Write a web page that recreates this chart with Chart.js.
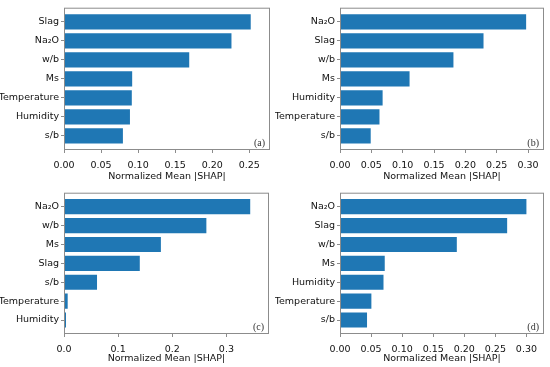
<!DOCTYPE html>
<html>
<head>
<meta charset="utf-8">
<script src="https://cdn.jsdelivr.net/npm/chart.js@4/dist/chart.umd.min.js"></script>
<style>
  body { margin: 0; background: #fff; }
  #wrap { position: relative; width: 550px; height: 367px; }
  canvas { position: absolute; }
</style>
</head>
<body>
<div id="wrap">
  <canvas id="cA" width="275" height="185" style="left:0;top:0"></canvas>
  <canvas id="cB" width="275" height="185" style="left:275px;top:0"></canvas>
  <canvas id="cC" width="275" height="182" style="left:0;top:185px"></canvas>
  <canvas id="cD" width="275" height="182" style="left:275px;top:185px"></canvas>
</div>
<script>
// features, top to bottom as drawn
const labelsA = ['Slag', 'Na₂O', 'w/b', 'Ms', 'Temperature', 'Humidity', 's/b'];
const valuesA = [0.252, 0.226, 0.169, 0.092, 0.0915, 0.089, 0.0795];
const ticksA = [0, 0.05, 0.10, 0.15, 0.20, 0.25];

const labelsB = ['Na₂O', 'Slag', 'w/b', 'Ms', 'Humidity', 'Temperature', 's/b'];
const valuesB = [0.297, 0.229, 0.181, 0.111, 0.068, 0.063, 0.049];
const ticksB = [0, 0.05, 0.10, 0.15, 0.20, 0.25, 0.30];

const labelsC = ['Na₂O', 'w/b', 'Ms', 'Slag', 's/b', 'Temperature', 'Humidity'];
const valuesC = [0.344, 0.263, 0.179, 0.140, 0.061, 0.0068, 0.0037];
const ticksC = [0, 0.1, 0.2, 0.3];

const labelsD = ['Na₂O', 'Slag', 'w/b', 'Ms', 'Humidity', 'Temperature', 's/b'];
const valuesD = [0.300, 0.269, 0.188, 0.072, 0.070, 0.0505, 0.0435];
const ticksD = [0, 0.05, 0.10, 0.15, 0.20, 0.25, 0.30];

const FONT = 'DejaVu Sans';
const INK = '#111';
const EDGE = '#8c8c8c';

// frame + panel tag
const framePlugin = {
    id: 'frame',
    afterDraw(chart, args, opts) {
        const a = chart.chartArea;
        const ctx = chart.ctx;
        ctx.save();
        ctx.strokeStyle = EDGE;
        ctx.lineWidth = 1;
        ctx.strokeRect(a.left + 0.5, a.top + 0.5, a.right - a.left - 1, a.bottom - a.top - 1);
        ctx.fillStyle = '#333';
        ctx.font = '10px "Liberation Serif"';
        ctx.textAlign = 'right';
        ctx.textBaseline = 'alphabetic';
        ctx.fillText(opts.tag, a.right - 5, a.bottom - 4);
        ctx.restore();
    }
};

function makeChart(id, labels, values, ticks, xMax, decimals, tag, box) {
    const canvas = document.getElementById(id);
    const W = canvas.width, H = canvas.height;
    const points = values.map((v, i) => ({ x: v, y: i }));

    new Chart(canvas.getContext('2d'), {
        type: 'bar',
        data: {
            datasets: [{
                data: points,
                backgroundColor: '#1f77b4',
                borderWidth: 0,
                categoryPercentage: 1,
                barPercentage: 0.8
            }]
        },
        options: {
            indexAxis: 'y',
            responsive: false,
            animation: false,
            devicePixelRatio: 1,
            layout: { padding: { top: box.top, right: W - box.right, left: 0, bottom: 0 } },
            plugins: {
                legend: { display: false },
                tooltip: { enabled: false },
                frame: { tag: tag }
            },
            scales: {
                x: {
                    type: 'linear',
                    min: 0,
                    max: xMax,
                    offset: false,
                    afterBuildTicks: (axis) => { axis.ticks = ticks.map(v => ({ value: v })); },
                    afterFit: (axis) => { axis.height = H - box.bottom; },
                    grid: { drawOnChartArea: false, drawTicks: true, tickLength: 3, color: EDGE, offset: false },
                    border: { display: false },
                    ticks: {
                        color: INK,
                        font: { family: FONT, size: 9.5 },
                        padding: 7,
                        maxRotation: 0,
                        callback: (v) => Number(v).toFixed(decimals)
                    },
                    title: {
                        display: true,
                        text: 'Normalized Mean |SHAP|',
                        color: INK,
                        font: { family: FONT, size: 9.5 },
                        padding: { top: 0, bottom: 3 }
                    }
                },
                y: {
                    type: 'linear',
                    reverse: true,
                    min: -0.74,
                    max: 6.74,
                    offset: false,
                    afterBuildTicks: (axis) => { axis.ticks = labels.map((l, i) => ({ value: i })); },
                    afterFit: (axis) => { axis.width = box.left; },
                    grid: { drawOnChartArea: false, drawTicks: true, tickLength: 3, color: EDGE, offset: false },
                    border: { display: false },
                    ticks: {
                        color: INK,
                        font: { family: FONT, size: 9.5 },
                        padding: 2,
                        callback: (v) => labels[v]
                    }
                }
            }
        },
        plugins: [framePlugin]
    });
}

makeChart('cA', labelsA, valuesA, ticksA, 0.278, 2, '(a)', { left: 64, top: 4, right: 270, bottom: 150 });
makeChart('cB', labelsB, valuesB, ticksB, 0.3255, 2, '(b)', { left: 65, top: 4, right: 269, bottom: 150 });
makeChart('cC', labelsC, valuesC, ticksC, 0.3787, 1, '(c)', { left: 64, top: 3, right: 269, bottom: 149 });
makeChart('cD', labelsD, valuesD, ticksD, 0.3283, 2, '(d)', { left: 65, top: 3, right: 269, bottom: 149 });
</script>
</body>
</html>
